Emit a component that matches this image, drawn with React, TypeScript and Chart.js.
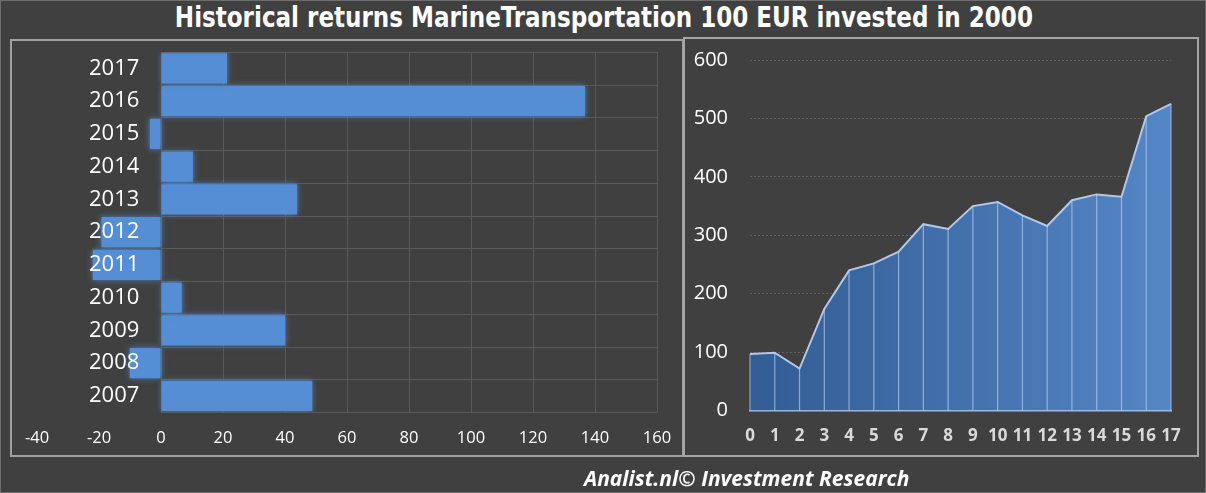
import React, { useEffect, useRef } from "react";
import { Chart, registerables } from "chart.js";

Chart.register(...registerables);

// Left chart: yearly returns (%)
const returnYears = ["2007", "2008", "2009", "2010", "2011", "2012", "2013", "2014", "2015", "2016", "2017"];
const returnValues = [48.8, -10.1, 40.0, 6.7, -22.0, -19.2, 43.9, 10.3, -3.6, 136.8, 21.3];

// Right chart: value of 100 EUR invested in 2000
const investYears = ["0", "1", "2", "3", "4", "5", "6", "7", "8", "9", "10", "11", "12", "13", "14", "15", "16", "17"];
const investValues = [97, 99, 72, 174, 240, 252, 272, 319, 311, 350, 357, 334, 316, 360, 370, 366, 504, 525];

const TITLE = "Historical returns MarineTransportation 100 EUR invested in 2000";
const FOOTER = "Analist.nl\u00A9 Investment Research";

const FONT = "'Open Sans', 'Noto Sans', sans-serif";

const barGridPlugin = {
  id: "barGrid",
  beforeDatasetsDraw(chart: any) {
    const { ctx, chartArea, scales } = chart;
    const x = scales.x;
    const y = scales.y;
    const x0 = x.getPixelForValue(0);
    ctx.save();
    ctx.strokeStyle = "#5a5a5a";
    ctx.lineWidth = 1;
    const n = chart.data.labels.length;
    for (let i = 0; i <= n; i++) {
      const py = Math.round(y.getPixelForValue(i - 0.5)) + 0.5;
      ctx.beginPath();
      ctx.moveTo(x0, py);
      ctx.lineTo(chartArea.right, py);
      ctx.stroke();
    }
    ctx.restore();
    ctx.save();
    ctx.shadowColor = "rgba(85,142,213,0.85)";
    ctx.shadowBlur = 6;
  },
  afterDatasetsDraw(chart: any) {
    chart.ctx.restore();
  },
};

const dropLinePlugin = {
  id: "dropLines",
  afterDatasetsDraw(chart: any) {
    const { ctx, chartArea } = chart;
    const meta = chart.getDatasetMeta(0);
    ctx.save();
    ctx.strokeStyle = "rgba(190,210,240,0.65)";
    ctx.lineWidth = 1.2;
    meta.data.forEach((pt: any) => {
      ctx.beginPath();
      ctx.moveTo(pt.x, pt.y);
      ctx.lineTo(pt.x, chartArea.bottom);
      ctx.stroke();
    });
    ctx.restore();
  },
};

const noSidePadding = (s: any) => {
  s.paddingLeft = 0;
  s.paddingRight = 0;
};

function BarChart() {
  const ref = useRef<HTMLCanvasElement | null>(null);
  useEffect(() => {
    if (!ref.current) return;
    const chart = new Chart(ref.current, {
      type: "bar",
      data: {
        labels: returnYears,
        datasets: [
          {
            data: returnValues,
            backgroundColor: "#558ED5",
            borderWidth: 0,
            barPercentage: 0.92,
            categoryPercentage: 1,
          },
        ],
      },
      options: {
        indexAxis: "y",
        responsive: false,
        animation: false,
        layout: { padding: { left: 24, right: 24, top: 10, bottom: 6 } },
        plugins: { legend: { display: false }, tooltip: { enabled: false } },
        scales: {
          x: {
            min: -40,
            max: 160,
            afterFit: noSidePadding,
            ticks: { stepSize: 20, color: "#ffffff", font: { family: FONT, size: 16.5 }, padding: 16 },
            grid: {
              color: (c: any) => (c.tick && c.tick.value < 0 ? "rgba(0,0,0,0)" : "#5a5a5a"),
              drawTicks: false,
            },
            border: { display: false },
          },
          y: {
            position: { x: -7 },
            reverse: true,
            afterFit: (s: any) => {
              s.paddingTop = 0;
              s.paddingBottom = 0;
            },
            grid: { display: false, drawTicks: false },
            border: { display: false },
            ticks: { color: "#ffffff", font: { family: FONT, size: 22 }, padding: 0, z: 1 },
          },
        },
      } as any,
      plugins: [barGridPlugin],
    });
    return () => chart.destroy();
  }, []);
  return <canvas ref={ref} width={668} height={428} style={{ width: 668, height: 428, display: "block" }} />;
}

function AreaChart() {
  const ref = useRef<HTMLCanvasElement | null>(null);
  useEffect(() => {
    if (!ref.current) return;
    const chart = new Chart(ref.current, {
      type: "line",
      data: {
        labels: investYears,
        datasets: [
          {
            data: investValues,
            fill: "origin",
            backgroundColor: (c: any) => {
              const { chart: ch } = c;
              const area = ch.chartArea;
              if (!area) return "#3f6aa5";
              const g = ch.ctx.createLinearGradient(area.left, 0, area.right, 0);
              g.addColorStop(0, "#325c93");
              g.addColorStop(1, "#5586c6");
              return g;
            },
            borderColor: "#b4c7e7",
            borderWidth: 2,
            pointRadius: 0,
            tension: 0,
          },
        ],
      },
      options: {
        responsive: false,
        animation: false,
        layout: { padding: { left: 8, right: 25, top: 20, bottom: 8 } },
        plugins: { legend: { display: false }, tooltip: { enabled: false } },
        scales: {
          x: {
            offset: false,
            afterFit: noSidePadding,
            grid: { display: false, drawTicks: false },
            border: { display: true, color: "#a9bcd9", width: 1.5 },
            ticks: {
              color: "#d9d9d9",
              font: { family: FONT, size: 17, weight: "bold" },
              padding: 15,
              maxRotation: 0,
              autoSkip: false,
            },
          },
          y: {
            min: 0,
            max: 600,
            afterFit: (s: any) => {
              s.width = 56;
              s.paddingTop = 0;
              s.paddingBottom = 0;
            },
            ticks: { stepSize: 100, color: "#ffffff", font: { family: FONT, size: 20 }, padding: 22 },
            grid: {
              color: (c: any) => (c.tick && c.tick.value === 0 ? "rgba(0,0,0,0)" : "rgba(255,255,255,0.17)"),
              drawTicks: false,
              lineWidth: 1,
            },
            border: { display: false, dash: [2, 2] },
          },
        },
      } as any,
      plugins: [dropLinePlugin],
    });
    return () => chart.destroy();
  }, []);
  return <canvas ref={ref} width={510} height={429} style={{ width: 510, height: 429, display: "block" }} />;
}

export default function App() {
  return (
    <div
      style={{
        position: "fixed",
        left: 0,
        top: 0,
        width: 1206,
        height: 493,
        background: "#404040",
        overflow: "hidden",
        boxSizing: "border-box",
        border: "1px solid #6e6e6e",
      }}
    >
      <div
        style={{
          position: "absolute",
          left: 0,
          top: 0,
          width: 1206,
          height: 36,
          lineHeight: "34px",
          textAlign: "center",
          color: "#ffffff",
          fontFamily: "'Liberation Sans Narrow', 'DejaVu Sans Condensed', 'Liberation Sans', sans-serif",
          fontWeight: "bold",
          fontSize: 28,
          whiteSpace: "nowrap",
        }}
      >
        <span style={{ display: "inline-block", transform: "scaleX(0.915)" }}>{TITLE}</span>
      </div>
      <div
        style={{
          position: "absolute",
          left: 9,
          top: 38,
          width: 674,
          height: 418,
          boxSizing: "border-box",
          border: "2px solid #a0a0a0",
        }}
      />
      <div
        style={{
          position: "absolute",
          left: 682,
          top: 36,
          width: 516,
          height: 420,
          boxSizing: "border-box",
          border: "2px solid #a6a6a6",
        }}
      />
      <div style={{ position: "absolute", left: 12, top: 41 }}>
        <BarChart />
      </div>
      <div style={{ position: "absolute", left: 685, top: 39 }}>
        <AreaChart />
      </div>
      <div
        style={{
          position: "absolute",
          left: 583,
          top: 462,
          height: 30,
          lineHeight: "30px",
          color: "#ffffff",
          fontFamily: "'Open Sans', Lato, sans-serif",
          fontWeight: "bold",
          fontStyle: "italic",
          fontSize: 21,
          whiteSpace: "nowrap",
        }}
      >
        {FOOTER}
      </div>
    </div>
  );
}
